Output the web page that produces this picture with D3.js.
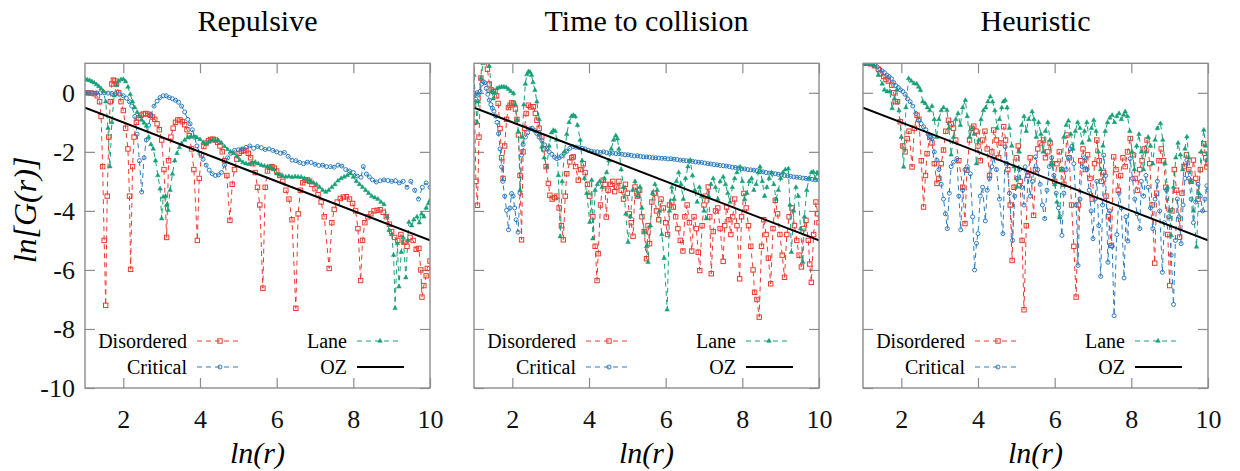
<!DOCTYPE html>
<html>
<head>
<meta charset="utf-8">
<script src="https://cdn.jsdelivr.net/npm/d3@7"></script>
<style>
body { margin: 0; background: #fff; }
svg text { font-family: "Liberation Serif", "Times New Roman", serif; }
</style>
</head>
<body>
<svg id="chart" width="1240" height="471"></svg>
<script>
// ---------------------------------------------------------------------------
// Data: [ln(r), ln G(r)] pairs per series

var titles = ["Repulsive", "Time to collision", "Heuristic"];
var xTicks = [2, 4, 6, 8, 10];
var yTicks = [0, -2, -4, -6, -8, -10];
var seriesNames = ["Disordered", "Critical", "Lane", "OZ"];
var ozLine = [[1, -0.5], [10, -5.0]];

var repDisordered = [[1.0,0.0],[1.08,0.0],[1.16,-0.01],[1.24,-0.03],[1.32,-0.1],[1.38,-0.3],[1.42,-0.8],[1.46,-2.5],[1.5,-5.0],[1.54,-7.2],[1.58,-3.5],[1.62,-1.5],[1.66,-0.3],[1.7,0.3],[1.74,0.43],[1.78,0.4],[1.82,0.3],[1.88,0.0],[1.94,-0.3],[2.0,-0.6],[2.06,-1.2],[2.12,-1.9],[2.16,-3.5],[2.19,-5.98],[2.24,-2.5],[2.28,-1.5],[2.34,-1.0],[2.4,-0.85],[2.46,-0.76],[2.52,-0.72],[2.58,-0.7],[2.64,-0.72],[2.7,-0.76],[2.76,-0.82],[2.82,-0.9],[2.88,-1.05],[2.94,-1.25],[3.0,-1.6],[3.06,-2.6],[3.13,-4.9],[3.18,-2.3],[3.24,-1.5],[3.3,-1.2],[3.36,-1.0],[3.42,-0.92],[3.48,-0.92],[3.54,-0.98],[3.6,-1.08],[3.66,-1.25],[3.72,-1.45],[3.78,-1.9],[3.84,-2.6],[3.93,-5.0],[3.98,-2.9],[4.04,-2.1],[4.1,-1.82],[4.16,-1.7],[4.22,-1.62],[4.28,-1.58],[4.34,-1.57],[4.4,-1.6],[4.46,-1.68],[4.52,-1.8],[4.58,-2.0],[4.64,-2.3],[4.7,-2.8],[4.78,-4.32],[4.84,-3.1],[4.9,-2.6],[4.96,-2.25],[5.02,-2.05],[5.08,-1.98],[5.14,-1.94],[5.2,-1.96],[5.26,-2.05],[5.32,-2.2],[5.38,-2.4],[5.44,-2.7],[5.5,-3.2],[5.56,-3.8],[5.64,-6.62],[5.7,-3.2],[5.76,-2.65],[5.82,-2.52],[5.88,-2.5],[5.94,-2.55],[6.0,-2.65],[6.08,-2.8],[6.16,-3.0],[6.24,-3.3],[6.32,-3.6],[6.4,-4.3],[6.5,-7.3],[6.56,-4.1],[6.62,-3.3],[6.68,-3.05],[6.74,-2.96],[6.8,-2.95],[6.86,-3.0],[6.92,-3.1],[7.0,-3.25],[7.08,-3.45],[7.16,-3.7],[7.24,-4.2],[7.37,-5.95],[7.44,-4.4],[7.5,-3.95],[7.58,-3.7],[7.66,-3.58],[7.74,-3.53],[7.82,-3.52],[7.9,-3.6],[7.98,-3.75],[8.06,-4.0],[8.12,-4.6],[8.19,-6.36],[8.24,-5.0],[8.3,-4.4],[8.38,-4.2],[8.46,-4.1],[8.54,-4.0],[8.62,-3.98],[8.7,-3.96],[8.78,-4.05],[8.86,-4.2],[8.94,-4.45],[9.0,-4.7],[9.08,-4.9],[9.16,-5.0],[9.24,-4.8],[9.32,-5.06],[9.4,-5.2],[9.48,-4.9],[9.56,-5.0],[9.64,-5.3],[9.71,-5.27],[9.76,-6.0],[9.79,-6.92],[9.84,-6.53],[9.9,-6.2],[9.93,-5.95],[10.0,-5.7]];

var repCritical = [[1.0,0.0],[1.1,0.0],[1.2,0.0],[1.3,0.0],[1.4,0.0],[1.5,0.0],[1.6,-0.01],[1.7,-0.02],[1.8,-0.03],[1.9,-0.05],[2.0,-0.1],[2.08,-0.18],[2.16,-0.3],[2.22,-0.45],[2.3,-0.8],[2.36,-1.4],[2.42,-2.3],[2.48,-3.36],[2.54,-2.2],[2.6,-1.6],[2.66,-1.1],[2.72,-0.75],[2.8,-0.45],[2.88,-0.28],[2.96,-0.16],[3.04,-0.1],[3.12,-0.1],[3.2,-0.16],[3.28,-0.2],[3.36,-0.25],[3.44,-0.32],[3.52,-0.45],[3.6,-0.65],[3.68,-0.9],[3.74,-1.05],[3.8,-1.25],[3.86,-1.5],[3.92,-1.8],[4.0,-2.05],[4.08,-2.25],[4.16,-2.45],[4.24,-2.62],[4.32,-2.74],[4.4,-2.8],[4.48,-2.78],[4.56,-2.7],[4.64,-2.45],[4.72,-2.2],[4.8,-2.05],[4.9,-1.95],[5.0,-1.93],[5.1,-1.9],[5.2,-1.85],[5.3,-1.8],[5.4,-1.88],[5.5,-1.82],[5.6,-1.86],[5.7,-1.92],[5.8,-1.9],[5.9,-1.95],[6.0,-2.0],[6.1,-2.05],[6.2,-2.02],[6.3,-2.15],[6.4,-2.28],[6.5,-2.3],[6.6,-2.36],[6.7,-2.4],[6.8,-2.35],[6.9,-2.36],[7.0,-2.42],[7.1,-2.46],[7.2,-2.45],[7.3,-2.5],[7.4,-2.5],[7.5,-2.52],[7.6,-2.45],[7.7,-2.48],[7.8,-2.6],[7.9,-2.65],[8.0,-2.7],[8.1,-2.82],[8.2,-2.86],[8.26,-2.5],[8.34,-2.75],[8.42,-2.85],[8.5,-2.95],[8.6,-3.02],[8.7,-2.98],[8.8,-2.95],[8.9,-2.97],[9.0,-3.0],[9.1,-2.98],[9.2,-3.05],[9.3,-3.0],[9.4,-3.2],[9.5,-3.0],[9.6,-3.3],[9.7,-3.6],[9.8,-3.2],[9.9,-3.05],[10.0,-3.2]];

var repLane = [[1.0,0.46],[1.06,0.44],[1.12,0.42],[1.18,0.38],[1.24,0.34],[1.3,0.28],[1.36,0.22],[1.42,0.14],[1.48,0.05],[1.54,-0.3],[1.6,-1.2],[1.65,-2.5],[1.7,-1.0],[1.76,-0.1],[1.82,0.25],[1.88,0.4],[1.94,0.45],[2.0,0.46],[2.06,0.38],[2.12,0.2],[2.18,-0.05],[2.24,-0.3],[2.3,-0.5],[2.36,-0.66],[2.42,-0.8],[2.48,-0.92],[2.54,-1.02],[2.6,-1.12],[2.66,-1.5],[2.72,-1.75],[2.78,-1.9],[2.84,-2.3],[2.9,-2.8],[2.96,-3.25],[3.0,-4.26],[3.04,-3.53],[3.1,-3.5],[3.13,-3.8],[3.17,-3.98],[3.22,-3.3],[3.28,-2.75],[3.34,-2.3],[3.4,-2.05],[3.46,-1.85],[3.52,-1.72],[3.6,-1.6],[3.68,-1.52],[3.76,-1.49],[3.84,-1.48],[3.92,-1.52],[4.0,-1.58],[4.08,-1.68],[4.16,-1.72],[4.24,-1.66],[4.32,-1.62],[4.4,-1.6],[4.48,-1.62],[4.56,-1.7],[4.64,-1.82],[4.72,-1.92],[4.8,-2.0],[4.88,-2.05],[4.96,-2.15],[5.04,-2.28],[5.12,-2.36],[5.2,-2.4],[5.28,-2.42],[5.36,-2.38],[5.44,-2.35],[5.52,-2.4],[5.6,-2.45],[5.68,-2.48],[5.76,-2.5],[5.84,-2.52],[5.92,-2.6],[6.0,-2.74],[6.08,-2.78],[6.16,-2.82],[6.24,-2.85],[6.32,-2.83],[6.4,-2.86],[6.48,-2.84],[6.56,-2.85],[6.64,-2.86],[6.72,-2.9],[6.8,-2.95],[6.88,-3.0],[6.96,-3.05],[7.04,-3.1],[7.12,-3.2],[7.2,-3.3],[7.28,-3.36],[7.36,-3.3],[7.44,-3.2],[7.52,-3.1],[7.6,-2.98],[7.68,-2.9],[7.76,-2.85],[7.84,-2.8],[7.92,-2.74],[8.0,-2.85],[8.08,-3.0],[8.16,-3.1],[8.24,-3.2],[8.32,-3.3],[8.4,-3.4],[8.48,-3.5],[8.56,-3.55],[8.64,-3.6],[8.72,-3.7],[8.8,-3.78],[8.88,-4.2],[8.93,-4.66],[9.0,-4.8],[9.05,-5.5],[9.09,-7.3],[9.15,-5.1],[9.19,-6.57],[9.25,-5.4],[9.3,-4.9],[9.37,-6.26],[9.42,-5.0],[9.45,-4.38],[9.52,-4.5],[9.58,-4.3],[9.66,-4.2],[9.72,-4.4],[9.78,-4.1],[9.84,-4.2],[9.9,-3.9],[9.96,-3.75],[10.0,-3.64]];

var ttcDisordered = [[1.0,1.5],[1.02,-1.0],[1.05,-3.0],[1.09,-3.81],[1.13,-1.5],[1.18,0.5],[1.22,1.4],[1.26,1.6],[1.3,1.2],[1.35,0.8],[1.4,0.3],[1.45,0.1],[1.5,0.05],[1.55,0.04],[1.59,-0.1],[1.63,-0.36],[1.68,-1.21],[1.72,-2.2],[1.76,-2.9],[1.8,-1.8],[1.85,-0.9],[1.9,-0.5],[1.94,-0.42],[1.98,-0.34],[2.03,-0.36],[2.08,-0.55],[2.12,-0.9],[2.16,-1.43],[2.2,-2.8],[2.24,-4.98],[2.28,-2.0],[2.32,-1.2],[2.36,-0.7],[2.42,-0.42],[2.48,-0.48],[2.55,-0.47],[2.6,-0.7],[2.64,-0.93],[2.7,-1.2],[2.77,-1.49],[2.82,-1.9],[2.88,-2.5],[2.94,-3.07],[2.98,-3.47],[3.04,-3.6],[3.1,-3.55],[3.16,-3.5],[3.22,-3.9],[3.28,-4.5],[3.33,-4.98],[3.38,-3.5],[3.42,-2.74],[3.5,-2.34],[3.55,-2.2],[3.59,-2.17],[3.65,-2.5],[3.72,-2.96],[3.78,-2.6],[3.85,-2.4],[3.9,-2.7],[3.96,-3.1],[4.02,-3.5],[4.1,-4.2],[4.16,-5.2],[4.21,-6.36],[4.24,-5.45],[4.3,-3.8],[4.37,-2.96],[4.42,-3.1],[4.45,-4.21],[4.5,-3.3],[4.56,-3.1],[4.62,-3.0],[4.67,-3.35],[4.72,-3.19],[4.78,-3.0],[4.84,-3.3],[4.9,-3.6],[4.95,-3.1],[5.0,-3.4],[5.05,-4.1],[5.1,-4.4],[5.15,-4.86],[5.2,-3.19],[5.26,-3.5],[5.32,-3.3],[5.38,-4.2],[5.44,-4.7],[5.5,-5.62],[5.54,-4.5],[5.58,-5.11],[5.64,-3.7],[5.7,-3.4],[5.76,-4.0],[5.82,-4.3],[5.88,-3.6],[5.94,-3.9],[6.0,-4.4],[6.05,-4.8],[6.1,-3.8],[6.16,-3.7],[6.2,-3.87],[6.26,-4.2],[6.32,-4.6],[6.38,-5.0],[6.45,-5.36],[6.5,-4.2],[6.56,-3.8],[6.62,-4.4],[6.68,-5.36],[6.74,-4.2],[6.8,-4.6],[6.85,-5.4],[6.89,-6.02],[6.95,-4.5],[7.0,-3.8],[7.05,-3.5],[7.11,-3.19],[7.15,-4.2],[7.19,-6.13],[7.24,-4.7],[7.3,-4.0],[7.36,-3.9],[7.42,-4.6],[7.5,-5.71],[7.54,-4.5],[7.59,-3.87],[7.65,-4.3],[7.7,-4.8],[7.75,-4.2],[7.8,-3.6],[7.86,-4.5],[7.93,-6.3],[7.98,-4.2],[8.04,-3.41],[8.1,-3.9],[8.16,-4.5],[8.22,-5.2],[8.28,-6.0],[8.32,-6.76],[8.38,-7.0],[8.44,-7.6],[8.5,-5.2],[8.56,-4.3],[8.62,-4.8],[8.68,-5.6],[8.74,-6.47],[8.8,-4.6],[8.86,-3.64],[8.92,-4.1],[8.98,-4.8],[9.04,-5.5],[9.1,-6.25],[9.16,-4.8],[9.22,-4.2],[9.3,-3.9],[9.36,-4.5],[9.42,-5.0],[9.48,-5.5],[9.54,-5.9],[9.6,-4.6],[9.66,-4.32],[9.72,-5.0],[9.76,-5.8],[9.8,-6.42],[9.86,-4.8],[9.92,-3.7],[9.97,-4.1],[10.0,-4.4]];

var ttcCritical = [[1.0,0.0],[1.04,-0.2],[1.08,0.0],[1.12,-0.05],[1.16,0.05],[1.2,0.3],[1.24,0.38],[1.28,0.34],[1.32,0.15],[1.36,-0.05],[1.4,-0.25],[1.44,-0.4],[1.48,-0.52],[1.52,-0.62],[1.56,-0.78],[1.6,-1.0],[1.64,-1.38],[1.68,-1.9],[1.72,-2.51],[1.75,-3.0],[1.8,-3.5],[1.85,-3.98],[1.9,-4.64],[1.94,-3.9],[1.98,-3.41],[2.02,-3.5],[2.06,-3.9],[2.1,-4.3],[2.15,-4.72],[2.2,-3.4],[2.24,-2.11],[2.28,-1.75],[2.34,-1.5],[2.4,-1.35],[2.46,-1.22],[2.52,-1.2],[2.58,-1.28],[2.64,-1.38],[2.7,-1.5],[2.77,-1.62],[2.84,-1.76],[2.9,-1.9],[2.96,-2.0],[3.03,-2.08],[3.1,-2.18],[3.16,-2.23],[3.22,-2.2],[3.28,-2.14],[3.35,-2.05],[3.42,-1.98],[3.5,-1.88],[3.58,-1.82],[3.66,-1.84],[3.74,-1.86],[3.82,-1.88],[3.9,-1.9],[3.98,-1.95],[4.06,-1.98],[4.14,-2.0],[4.22,-2.0],[4.3,-2.02],[4.38,-2.0],[4.46,-2.03],[4.54,-2.05],[4.62,-2.04],[4.7,-2.06],[4.78,-2.06],[4.86,-2.08],[4.94,-2.1],[5.02,-2.1],[5.1,-2.12],[5.18,-2.14],[5.26,-2.13],[5.34,-2.15],[5.42,-2.17],[5.5,-2.17],[5.58,-2.18],[5.66,-2.2],[5.74,-2.2],[5.82,-2.21],[5.9,-2.22],[5.98,-2.22],[6.06,-2.24],[6.14,-2.23],[6.22,-2.25],[6.3,-2.26],[6.38,-2.28],[6.46,-2.29],[6.54,-2.3],[6.62,-2.31],[6.7,-2.32],[6.78,-2.34],[6.86,-2.35],[6.94,-2.36],[7.02,-2.38],[7.1,-2.4],[7.18,-2.41],[7.26,-2.43],[7.34,-2.44],[7.42,-2.46],[7.5,-2.47],[7.58,-2.48],[7.66,-2.5],[7.74,-2.52],[7.82,-2.53],[7.9,-2.55],[7.98,-2.57],[8.06,-2.58],[8.14,-2.6],[8.22,-2.61],[8.3,-2.62],[8.38,-2.64],[8.46,-2.66],[8.54,-2.68],[8.62,-2.7],[8.7,-2.72],[8.78,-2.73],[8.86,-2.74],[8.94,-2.76],[9.02,-2.78],[9.1,-2.8],[9.18,-2.81],[9.26,-2.83],[9.34,-2.85],[9.42,-2.86],[9.5,-2.87],[9.58,-2.89],[9.66,-2.9],[9.74,-2.92],[9.82,-2.93],[9.9,-2.95],[10.0,-2.96]];

var ttcLane = [[1.0,0.6],[1.04,-0.3],[1.08,-1.0],[1.12,-0.3],[1.18,0.5],[1.24,1.0],[1.3,1.3],[1.36,1.1],[1.4,0.9],[1.46,0.05],[1.5,-0.2],[1.55,0.0],[1.6,0.15],[1.66,0.18],[1.72,0.2],[1.78,0.2],[1.84,0.18],[1.9,0.12],[1.96,0.05],[2.03,-0.02],[2.08,-0.4],[2.12,-0.9],[2.16,-1.32],[2.2,-3.3],[2.26,-1.5],[2.3,-0.4],[2.34,0.3],[2.38,0.62],[2.42,0.72],[2.46,0.7],[2.5,0.6],[2.54,0.35],[2.59,0.09],[2.64,-0.3],[2.7,-0.9],[2.77,-1.83],[2.83,-2.2],[2.9,-2.51],[2.96,-1.8],[3.02,-1.35],[3.07,-1.27],[3.12,-1.3],[3.16,-1.6],[3.2,-2.8],[3.25,-4.87],[3.3,-3.0],[3.36,-2.0],[3.42,-1.4],[3.48,-1.0],[3.54,-0.8],[3.59,-0.76],[3.64,-0.8],[3.7,-1.1],[3.77,-1.6],[3.82,-2.3],[3.88,-2.9],[3.94,-3.4],[4.02,-4.38],[4.07,-2.96],[4.1,-4.94],[4.16,-3.3],[4.22,-3.1],[4.28,-3.0],[4.34,-3.2],[4.4,-2.9],[4.46,-2.7],[4.52,-2.3],[4.58,-1.9],[4.64,-1.6],[4.7,-1.45],[4.74,-1.55],[4.78,-1.9],[4.84,-2.6],[4.9,-3.2],[4.96,-4.1],[5.02,-5.06],[5.08,-4.2],[5.14,-3.3],[5.2,-3.0],[5.26,-3.5],[5.33,-3.19],[5.38,-3.9],[5.44,-4.7],[5.5,-5.2],[5.54,-5.74],[5.6,-4.5],[5.66,-3.4],[5.72,-3.1],[5.78,-3.3],[5.84,-4.0],[5.9,-4.8],[5.96,-5.6],[6.04,-7.35],[6.1,-4.0],[6.16,-3.2],[6.22,-3.6],[6.28,-3.0],[6.34,-2.7],[6.4,-3.1],[6.46,-3.6],[6.52,-2.9],[6.58,-2.5],[6.64,-2.28],[6.7,-2.8],[6.76,-3.3],[6.82,-3.7],[6.88,-3.2],[6.94,-3.5],[7.0,-4.0],[7.06,-4.26],[7.12,-3.5],[7.18,-3.1],[7.24,-2.9],[7.3,-3.2],[7.36,-3.6],[7.42,-3.0],[7.5,-2.85],[7.56,-3.1],[7.62,-3.4],[7.68,-3.7],[7.74,-3.2],[7.8,-2.9],[7.86,-2.7],[7.94,-2.51],[8.0,-3.0],[8.06,-3.6],[8.12,-3.4],[8.18,-3.0],[8.24,-2.9],[8.3,-3.3],[8.36,-3.1],[8.42,-2.7],[8.46,-2.51],[8.52,-3.0],[8.58,-3.5],[8.64,-3.2],[8.7,-2.9],[8.76,-2.7],[8.82,-3.1],[8.88,-3.6],[8.94,-3.3],[9.0,-2.9],[9.06,-2.7],[9.12,-2.6],[9.2,-2.57],[9.24,-3.8],[9.28,-5.4],[9.34,-4.0],[9.4,-3.2],[9.46,-3.5],[9.52,-4.6],[9.58,-5.74],[9.62,-4.2],[9.68,-3.3],[9.74,-2.9],[9.8,-2.7],[9.85,-2.68],[9.9,-2.9],[9.95,-2.7],[10.0,-2.75]];

var heuDisordered = [[1.0,1.0],[1.1,1.0],[1.2,0.98],[1.3,0.92],[1.4,0.8],[1.47,0.65],[1.54,0.55],[1.6,0.45],[1.66,0.4],[1.75,0.26],[1.8,0.0],[1.84,-0.3],[1.9,-0.3],[1.97,-0.98],[2.04,-1.8],[2.1,-2.0],[2.15,-1.55],[2.2,-1.3],[2.28,-2.51],[2.34,-1.2],[2.41,-0.76],[2.46,-0.9],[2.52,-2.3],[2.58,-3.87],[2.63,-2.8],[2.67,-2.06],[2.74,-1.5],[2.8,-1.7],[2.86,-2.4],[2.93,-3.07],[2.98,-2.9],[3.04,-2.4],[3.1,-1.94],[3.16,-1.3],[3.23,-0.93],[3.3,-1.05],[3.36,-1.2],[3.42,-1.6],[3.5,-2.3],[3.6,-3.2],[3.66,-4.43],[3.71,-2.62],[3.78,-1.6],[3.84,-1.2],[3.89,-1.13],[3.95,-1.3],[4.0,-1.8],[4.06,-2.3],[4.12,-1.6],[4.18,-1.3],[4.24,-1.9],[4.3,-2.8],[4.36,-2.0],[4.41,-1.26],[4.48,-1.6],[4.54,-2.2],[4.6,-1.7],[4.67,-1.15],[4.72,-1.6],[4.78,-2.6],[4.84,-3.8],[4.89,-5.68],[4.94,-3.2],[5.0,-2.2],[5.05,-1.8],[5.1,-3.0],[5.15,-5.0],[5.2,-7.35],[5.26,-4.5],[5.3,-2.8],[5.36,-2.2],[5.45,-4.15],[5.5,-2.6],[5.56,-1.9],[5.62,-1.7],[5.71,-1.6],[5.76,-2.2],[5.82,-2.0],[5.88,-1.7],[5.94,-2.4],[6.0,-3.0],[6.06,-2.4],[6.12,-2.0],[6.18,-2.6],[6.24,-3.1],[6.32,-1.43],[6.38,-2.2],[6.44,-3.8],[6.5,-5.2],[6.56,-6.92],[6.62,-3.8],[6.68,-2.3],[6.74,-1.9],[6.8,-2.6],[6.86,-2.1],[6.92,-2.9],[6.98,-3.6],[7.04,-2.4],[7.1,-1.6],[7.16,-2.3],[7.22,-3.0],[7.28,-2.7],[7.34,-3.5],[7.4,-4.2],[7.48,-5.17],[7.54,-2.17],[7.6,-2.6],[7.66,-3.3],[7.72,-2.8],[7.78,-2.2],[7.84,-2.5],[7.9,-2.0],[7.97,-1.55],[8.04,-2.1],[8.1,-2.9],[8.16,-3.3],[8.22,-2.6],[8.28,-2.3],[8.34,-1.9],[8.41,-1.6],[8.48,-2.4],[8.54,-3.8],[8.61,-5.77],[8.66,-3.4],[8.72,-2.3],[8.78,-1.9],[8.84,-2.3],[8.9,-3.2],[8.95,-4.8],[9.0,-6.53],[9.06,-4.0],[9.12,-2.6],[9.18,-3.3],[9.26,-4.89],[9.32,-3.4],[9.38,-2.5],[9.44,-2.1],[9.5,-2.6],[9.56,-3.0],[9.62,-2.28],[9.68,-2.9],[9.74,-3.6],[9.8,-2.6],[9.89,-1.72],[9.94,-2.2],[9.97,-2.51],[10.0,-2.4]];

var heuCritical = [[1.0,1.0],[1.06,1.0],[1.12,1.0],[1.18,0.99],[1.24,0.97],[1.3,0.95],[1.37,0.88],[1.44,0.8],[1.5,0.74],[1.56,0.68],[1.62,0.6],[1.68,0.55],[1.74,0.48],[1.8,0.35],[1.86,0.24],[1.92,0.18],[1.98,0.1],[2.04,0.04],[2.1,-0.05],[2.16,-0.2],[2.23,-0.3],[2.3,-0.45],[2.38,-0.7],[2.45,-0.93],[2.52,-1.05],[2.58,-1.15],[2.64,-1.25],[2.7,-1.4],[2.76,-1.5],[2.8,-1.55],[2.86,-2.0],[2.93,-2.28],[2.98,-2.6],[3.04,-3.1],[3.1,-3.6],[3.15,-4.1],[3.2,-4.6],[3.25,-3.4],[3.3,-2.5],[3.36,-2.35],[3.45,-2.23],[3.5,-3.5],[3.55,-4.64],[3.6,-3.3],[3.66,-2.6],[3.72,-2.5],[3.8,-2.74],[3.86,-4.2],[3.91,-6.0],[3.96,-5.1],[4.0,-4.77],[4.06,-3.5],[4.12,-3.2],[4.19,-4.34],[4.24,-3.3],[4.3,-2.9],[4.36,-2.5],[4.41,-2.17],[4.48,-2.6],[4.56,-3.6],[4.65,-4.77],[4.71,-1.83],[4.76,-2.4],[4.82,-3.4],[4.9,-5.0],[4.96,-3.5],[5.02,-2.9],[5.08,-2.6],[5.14,-3.2],[5.2,-3.8],[5.23,-2.51],[5.3,-2.8],[5.36,-3.5],[5.42,-3.0],[5.5,-2.17],[5.56,-2.6],[5.62,-3.1],[5.68,-3.8],[5.74,-4.26],[5.8,-3.3],[5.86,-2.5],[5.92,-2.2],[5.98,-2.8],[6.04,-3.4],[6.1,-3.9],[6.14,-4.2],[6.19,-4.83],[6.24,-3.4],[6.3,-2.6],[6.36,-2.2],[6.41,-1.9],[6.45,-1.81],[6.5,-2.4],[6.56,-3.8],[6.61,-5.85],[6.66,-3.6],[6.72,-2.5],[6.78,-2.2],[6.84,-2.6],[6.9,-3.3],[6.95,-4.0],[7.0,-4.94],[7.05,-3.6],[7.1,-3.0],[7.15,-4.5],[7.2,-6.22],[7.25,-3.8],[7.28,-2.11],[7.33,-2.8],[7.39,-5.74],[7.44,-4.0],[7.5,-5.2],[7.55,-7.55],[7.62,-4.8],[7.68,-3.4],[7.74,-3.9],[7.81,-6.27],[7.86,-4.2],[7.91,-5.02],[7.97,-2.23],[8.03,-2.9],[8.09,-3.6],[8.15,-4.1],[8.22,-4.6],[8.26,-3.0],[8.32,-3.5],[8.38,-2.8],[8.44,-3.2],[8.5,-3.9],[8.56,-4.6],[8.62,-3.6],[8.68,-3.0],[8.74,-4.0],[8.81,-6.08],[8.86,-4.4],[8.92,-3.3],[8.98,-4.2],[9.04,-5.5],[9.1,-7.17],[9.15,-5.0],[9.2,-3.6],[9.25,-4.2],[9.3,-5.11],[9.35,-3.8],[9.4,-2.9],[9.45,-2.28],[9.5,-2.9],[9.56,-3.6],[9.62,-4.4],[9.68,-3.7],[9.74,-3.1],[9.8,-3.5],[9.86,-4.0],[9.92,-3.6],[9.97,-3.15],[10.0,-3.3]];

var heuLane = [[1.0,1.0],[1.1,1.0],[1.2,0.98],[1.3,0.9],[1.4,0.6],[1.5,0.3],[1.56,0.1],[1.63,0.04],[1.7,0.05],[1.76,-0.53],[1.82,-0.2],[1.88,0.1],[1.94,-0.6],[2.0,-1.5],[2.06,-2.51],[2.12,-0.5],[2.19,0.49],[2.26,0.4],[2.33,0.32],[2.4,0.3],[2.45,0.2],[2.5,0.09],[2.56,-0.3],[2.62,-0.36],[2.68,-0.5],[2.74,-0.6],[2.8,-0.45],[2.86,-0.9],[2.92,-1.5],[2.98,-0.9],[3.04,-0.6],[3.1,-0.5],[3.19,-0.59],[3.24,-1.2],[3.3,-2.1],[3.36,-1.5],[3.42,-0.9],[3.48,-0.7],[3.54,-1.1],[3.6,-0.5],[3.67,-0.25],[3.72,-0.8],[3.78,-1.5],[3.84,-1.2],[3.9,-1.4],[3.96,-2.4],[4.02,-1.6],[4.08,-0.9],[4.14,-0.6],[4.2,-0.5],[4.26,-0.3],[4.32,-0.13],[4.38,-0.3],[4.44,-0.6],[4.5,-1.2],[4.56,-0.9],[4.62,-0.5],[4.66,-0.3],[4.71,-0.25],[4.76,-0.5],[4.82,-1.2],[4.88,-1.8],[4.94,-2.5],[5.02,-3.19],[5.08,-2.0],[5.14,-1.1],[5.2,-0.8],[5.26,-1.3],[5.32,-0.9],[5.41,-0.64],[5.46,-0.9],[5.52,-1.5],[5.58,-1.0],[5.64,-1.4],[5.7,-2.0],[5.76,-1.3],[5.82,-1.0],[5.88,-1.6],[5.94,-2.4],[6.0,-3.1],[6.06,-3.7],[6.13,-4.23],[6.18,-2.6],[6.24,-1.5],[6.3,-1.1],[6.36,-0.95],[6.42,-1.4],[6.48,-1.9],[6.54,-1.3],[6.6,-1.0],[6.66,-1.2],[6.72,-1.7],[6.78,-1.3],[6.84,-1.0],[6.9,-1.6],[6.96,-1.2],[7.02,-0.93],[7.08,-1.3],[7.14,-2.0],[7.2,-2.6],[7.26,-1.8],[7.32,-1.3],[7.38,-1.0],[7.44,-0.85],[7.5,-0.76],[7.56,-1.0],[7.62,-0.8],[7.68,-0.7],[7.74,-0.9],[7.8,-0.75],[7.84,-0.64],[7.9,-0.8],[7.96,-1.3],[8.02,-2.0],[8.08,-2.6],[8.14,-1.8],[8.2,-1.4],[8.26,-2.0],[8.32,-2.6],[8.38,-2.0],[8.44,-1.5],[8.5,-1.8],[8.56,-2.4],[8.62,-1.6],[8.68,-1.2],[8.76,-1.04],[8.82,-1.6],[8.88,-2.4],[8.94,-3.2],[9.0,-4.0],[9.04,-4.83],[9.1,-3.2],[9.16,-2.2],[9.22,-1.7],[9.28,-2.1],[9.34,-2.6],[9.4,-1.9],[9.45,-1.49],[9.5,-2.2],[9.56,-3.0],[9.62,-4.0],[9.7,-5.22],[9.76,-3.4],[9.82,-2.0],[9.89,-1.26],[9.94,-1.8],[9.97,-2.28],[10.0,-2.1]];

var panelSeries = [
    [repDisordered, repCritical, repLane],
    [ttcDisordered, ttcCritical, ttcLane],
    [heuDisordered, heuCritical, heuLane]
];

//////////////////////////////////////////////////////////////////////////////
// Layout and styles

var red = "#ec3a30", blue = "#2b7cc0", green = "#17a077";
var colors = [red, blue, green];
var serif = "'Liberation Serif', 'Times New Roman', serif";
var frameColor = "#8c8c8c";

var panelLeft = [85, 474, 863];
var panelW = 345;
var plotTop = 63.3, plotBottom = 388;

var xScale = d3.scaleLinear().domain([1, 10]).range([0, panelW]);
var yScale = d3.scaleLinear().domain([-10, 1]).range([plotBottom, plotTop]);

var svg = d3.select("#chart");

var line = d3.line()
    .x(function(d) { return xScale(d[0]); })
    .y(function(d) { return yScale(d[1]); });

function drawMarker(sel, k, color) {
    if (k === 0) {
        sel.append("rect")
            .attr("x", -2.2).attr("y", -2.2)
            .attr("width", 4.4).attr("height", 4.4)
            .attr("fill", "none").attr("stroke", color).attr("stroke-width", 1);
    } else if (k === 1) {
        sel.append("circle")
            .attr("r", 2)
            .attr("fill", "none").attr("stroke", color).attr("stroke-width", 1);
    } else {
        sel.append("path")
            .attr("d", d3.symbol().type(d3.symbolTriangle).size(9))
            .attr("fill", color).attr("stroke", color).attr("stroke-width", 0.5);
    }
}

function styleAxis(g) {
    g.select(".domain").remove();
    g.selectAll(".tick line").attr("stroke", frameColor).attr("stroke-width", 1.2);
    g.attr("font-family", null).attr("font-size", null);
    g.selectAll(".tick text")
        .attr("fill", "#111")
        .style("font-family", serif)
        .style("font-size", "26px")
        .text(function() { return this.textContent.replace("\u2212", "-"); });
}

panelSeries.forEach(function(series, p) {
    var g = svg.append("g").attr("transform", "translate(" + panelLeft[p] + ",0)");

    g.append("clipPath").attr("id", "clip" + p)
        .append("rect")
        .attr("x", 0).attr("y", plotTop)
        .attr("width", panelW).attr("height", plotBottom - plotTop);

    // axes with inward ticks on all four sides
    g.append("g")
        .attr("transform", "translate(0," + plotBottom + ")")
        .call(d3.axisBottom(xScale).tickValues(xTicks).tickSize(-10).tickSizeOuter(0).tickPadding(22))
        .call(styleAxis);
    g.append("g")
        .attr("transform", "translate(0," + plotTop + ")")
        .call(d3.axisTop(xScale).tickValues(xTicks).tickSize(-10).tickSizeOuter(0).tickFormat(""))
        .call(styleAxis);
    g.append("g")
        .call(d3.axisLeft(yScale).tickValues(yTicks).tickSize(-10).tickSizeOuter(0).tickPadding(10)
            .tickFormat(p === 0 ? d3.format("d") : ""))
        .call(styleAxis);
    g.append("g")
        .attr("transform", "translate(" + panelW + ",0)")
        .call(d3.axisRight(yScale).tickValues(yTicks).tickSize(-10).tickSizeOuter(0).tickFormat(""))
        .call(styleAxis);

    // data series
    var plot = g.append("g").attr("clip-path", "url(#clip" + p + ")");
    series.forEach(function(data, k) {
        plot.append("path")
            .datum(data)
            .attr("d", line)
            .attr("fill", "none")
            .attr("stroke", colors[k])
            .attr("stroke-width", 1)
            .attr("stroke-dasharray", "5,4");
        plot.append("g").selectAll("g")
            .data(data)
            .enter()
            .append("g")
            .attr("transform", function(d) { return "translate(" + xScale(d[0]) + "," + yScale(d[1]) + ")"; })
            .each(function() { drawMarker(d3.select(this), k, colors[k]); });
    });
    plot.append("path")
        .datum(ozLine)
        .attr("d", line)
        .attr("fill", "none")
        .attr("stroke", "#000")
        .attr("stroke-width", 2);

    // frame
    g.append("rect")
        .attr("x", 0).attr("y", plotTop)
        .attr("width", panelW).attr("height", plotBottom - plotTop)
        .attr("fill", "none").attr("stroke", frameColor).attr("stroke-width", 1.4);

    // title and x label
    g.append("text")
        .attr("x", panelW / 2).attr("y", 31)
        .attr("text-anchor", "middle")
        .attr("font-size", 30)
        .text(titles[p]);
    g.append("text")
        .attr("x", panelW / 2).attr("y", 463)
        .attr("text-anchor", "middle")
        .attr("font-style", "italic").attr("font-size", 30)
        .text("ln(r)");

    // legend, two columns
    var legendPos = [[102, 341], [102, 367], [262, 341], [262, 367]];
    seriesNames.forEach(function(name, k) {
        var lx = legendPos[k][0], ly = legendPos[k][1];
        g.append("text")
            .attr("x", lx).attr("y", ly + 7)
            .attr("text-anchor", "end")
            .attr("font-size", 20)
            .text(name);
        var lg = g.append("g");
        if (k < 3) {
            lg.append("line")
                .attr("x1", lx + 10).attr("x2", lx + 55)
                .attr("y1", ly).attr("y2", ly)
                .attr("stroke", colors[k]).attr("stroke-width", 1)
                .attr("stroke-dasharray", "5,4");
            var mg = lg.append("g").attr("transform", "translate(" + (lx + 33) + "," + ly + ")");
            drawMarker(mg, k, colors[k]);
        } else {
            lg.append("line")
                .attr("x1", lx + 10).attr("x2", lx + 57)
                .attr("y1", ly).attr("y2", ly)
                .attr("stroke", "#000").attr("stroke-width", 2);
        }
    });
});

// shared y label
svg.append("text")
    .attr("transform", "translate(36,210) rotate(-90)")
    .attr("text-anchor", "middle")
    .attr("font-style", "italic").attr("font-size", 32)
    .text("ln[G(r)]");
</script>
</body>
</html>
